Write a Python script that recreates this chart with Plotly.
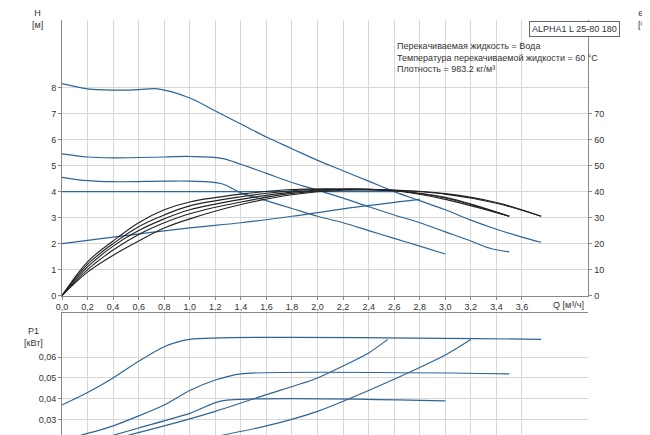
import plotly.graph_objects as go
from plotly.subplots import make_subplots

# head curves, H [m]
q_max = [0, 0.2, 0.4, 0.6, 0.75, 1.0, 1.2, 1.4, 1.6, 1.8, 2.0, 2.2, 2.4, 2.6, 2.8, 3.0, 3.2, 3.4, 3.6, 3.75]
h_max = [8.15, 7.95, 7.9, 7.92, 7.95, 7.6, 7.1, 6.6, 6.1, 5.65, 5.2, 4.8, 4.4, 4.0, 3.65, 3.3, 2.9, 2.55, 2.25, 2.05]
q_mid = [0, 0.2, 0.4, 0.8, 1.0, 1.25, 1.4, 1.6, 1.8, 2.0, 2.2, 2.4, 2.6, 2.8, 3.0, 3.2, 3.35, 3.5]
h_mid = [5.45, 5.33, 5.3, 5.33, 5.35, 5.28, 5.05, 4.7, 4.35, 4.05, 3.75, 3.42, 3.1, 2.8, 2.45, 2.1, 1.82, 1.68]
q_low = [0, 0.2, 0.4, 0.8, 1.0, 1.25, 1.4, 1.6, 1.8, 2.0, 2.2, 2.4, 2.6, 2.8, 3.0]
h_low = [4.55, 4.42, 4.38, 4.4, 4.4, 4.3, 3.95, 3.65, 3.35, 3.05, 2.8, 2.5, 2.2, 1.9, 1.6]
q_cp = [0, 2.6]
h_cp = [4.0, 4.0]
q_pp = [0, 0.4, 1.0, 1.4, 1.8, 2.3, 2.8]
h_pp = [2.0, 2.25, 2.6, 2.8, 3.05, 3.4, 3.7]

# efficiency curves, eta [%]
eta_curves = [
    ([0, 0.2, 0.4, 0.6, 0.8, 1.0, 1.4, 1.8, 2.2, 2.6, 3.0, 3.5],
     [0, 13, 21, 28, 33, 36, 39, 40.8, 41, 40.3, 37, 30.5]),
    ([0, 0.2, 0.4, 0.6, 0.8, 1.0, 1.4, 1.8, 2.2, 2.6, 3.0, 3.4, 3.75],
     [0, 12, 20, 26.5, 31, 34.5, 38, 40.3, 41, 40.5, 39, 35.5, 30.5]),
    ([0, 0.2, 0.4, 0.6, 0.8, 1.0, 1.4, 1.8, 2.2, 2.6, 3.0, 3.5],
     [0, 11, 19, 25, 29.5, 33, 37, 39.8, 40.8, 40.3, 37.5, 30.5]),
    ([0, 0.2, 0.4, 0.6, 0.8, 1.0, 1.4, 1.8, 2.2, 2.6, 3.0, 3.4, 3.75],
     [0, 10, 17.5, 23.5, 28, 31.5, 36, 39.3, 40.8, 40.6, 39.2, 35.8, 30.5]),
    ([0, 0.2, 0.4, 0.6, 0.8, 1.0, 1.4, 1.8, 2.2, 2.6, 3.0, 3.5],
     [0, 9, 15.5, 21, 26, 29.5, 35, 38.8, 40.5, 40.3, 37.8, 30.5]),
]

# power curves, P1 [kW]
p_curves = [
    ([0, 0.2, 0.4, 0.6, 0.8, 1.0, 3.75], [0.037, 0.043, 0.05, 0.058, 0.065, 0.0685, 0.0685]),
    ([0, 0.4, 0.8, 1.0, 1.2, 1.4, 3.5], [0.02, 0.027, 0.037, 0.044, 0.049, 0.052, 0.052]),
    ([0.2, 0.6, 1.0, 1.25, 3.0], [0.019, 0.026, 0.033, 0.039, 0.039]),
    ([0.3, 0.8, 1.2, 1.6, 2.0, 2.4, 2.55], [0.019, 0.027, 0.034, 0.042, 0.05, 0.062, 0.0685]),
    ([1.0, 1.6, 2.0, 2.4, 2.8, 3.0, 3.2], [0.0195, 0.027, 0.034, 0.044, 0.055, 0.061, 0.0685]),
]
q_ticks = [round(0.2 * i, 1) for i in range(19)]

BLUE = "#2f6497"
font = dict(family="Liberation Sans, Arial", size=9, color="#333")

fig = make_subplots(rows=2, cols=1, specs=[[{"secondary_y": True}], [{}]],
                    vertical_spacing=0.042, row_heights=[0.68, 0.32])

for q, h in [(q_max, h_max), (q_mid, h_mid), (q_low, h_low), (q_cp, h_cp), (q_pp, h_pp)]:
    fig.add_trace(go.Scatter(x=q, y=h, mode="lines", line=dict(color=BLUE, width=1.2, shape="spline")),
                  row=1, col=1)
for q, e in eta_curves:
    fig.add_trace(go.Scatter(x=q, y=e, mode="lines", line=dict(color="#222", width=1.1, shape="spline")),
                  row=1, col=1, secondary_y=True)
for q, p in p_curves:
    fig.add_trace(go.Scatter(x=q, y=p, mode="lines",
                             line=dict(color=BLUE, width=1.2, shape="spline", smoothing=0.6)),
                  row=2, col=1)

grid = dict(showgrid=True, gridcolor="#d8d8d8", zeroline=False, showline=True,
            linecolor="#888", tickfont=font, automargin=False)
fig.update_xaxes(range=[0, 4.12], tickvals=q_ticks, tickformat=".1f", **grid)
fig.update_xaxes(row=1, col=1, ticks="outside", ticklen=3, tickcolor="#888")
fig.update_xaxes(row=2, col=1, showticklabels=False, mirror=True)
fig.update_yaxes(row=1, col=1, secondary_y=False, range=[0, 10.6],
                 tickvals=list(range(9)), ticks="outside", ticklen=3, tickcolor="#888", **grid)
fig.update_yaxes(row=1, col=1, secondary_y=True, range=[0, 106], tickvals=list(range(0, 80, 10)),
                 showgrid=False, zeroline=False, showline=True, linecolor="#888", tickfont=font,
                 ticks="outside", ticklen=3, tickcolor="#888", automargin=False)
fig.update_yaxes(row=2, col=1, range=[0.0188, 0.081], tickvals=[0.02, 0.03, 0.04, 0.05, 0.06],
                 tickformat=".2f", ticks="outside", ticklen=3, tickcolor="#888", **grid)

fig.add_annotation(x=-0.03, y=1.0, xref="paper", yref="paper", text="H<br>[м]", showarrow=False,
                   font=font, xanchor="right", yanchor="bottom", align="center", yshift=-12)
fig.add_annotation(x=1.025, y=1.0, xref="paper", yref="paper", text="eta<br>[%]", showarrow=False,
                   font=font, xanchor="left", yanchor="bottom", align="center", yshift=-12)
fig.add_annotation(x=0.996, y=0.997, xref="paper", yref="paper", text="ALPHA1 L 25-80 180",
                   showarrow=False, font=font, xanchor="right", yanchor="top",
                   bordercolor="#666", borderwidth=1, borderpad=2, bgcolor="white")
fig.add_annotation(x=0.595, y=0.955, xref="paper", yref="paper",
                   text="Перекачиваемая жидкость = Вода<br>Температура перекачиваемой жидкости = 60 °C"
                        "<br>Плотность = 983.2 кг/м³",
                   showarrow=False, font=font, xanchor="left", yanchor="top", align="left")
fig.add_annotation(x=4.1, y=0, xref="x", yref="y", text="Q [м³/ч]", showarrow=False, font=font,
                   xanchor="right", yanchor="top", yshift=-2)
fig.add_annotation(x=-0.03, y=0.282, xref="paper", yref="paper", text="P1<br>[кВт]", showarrow=False,
                   font=font, xanchor="right", yanchor="top", align="center")

fig.update_layout(width=650, height=435, showlegend=False, separators=",.",
                  margin=dict(l=54, r=36, t=12, b=0),
                  paper_bgcolor="white", plot_bgcolor="white", font=font)
fig.write_html("out.html")
